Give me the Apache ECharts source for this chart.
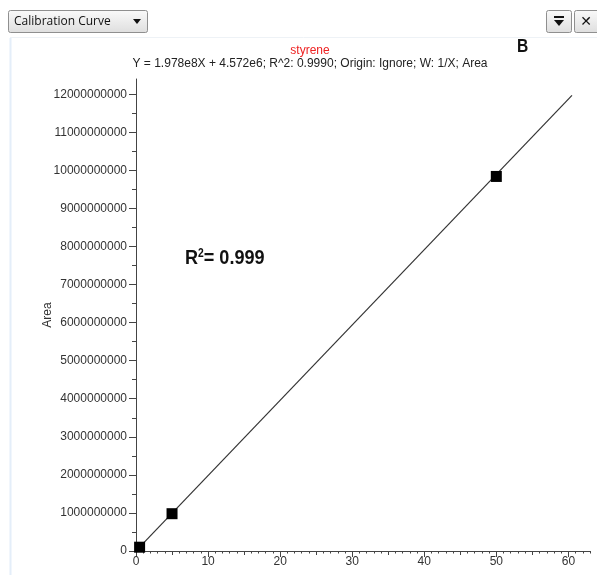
<!DOCTYPE html>
<html><head><meta charset="utf-8">
<script src="https://cdn.jsdelivr.net/npm/echarts@6/dist/echarts.min.js"></script>
<style>html,body{margin:0;padding:0;background:#fff}#c{width:597px;height:575px}</style>
</head><body><div id="c"></div>
<script>
// ---- data ----
const compoundName = 'styrene';
const equationText = 'Y = 1.978e8X + 4.572e6; R^2: 0.9990; Origin: Ignore; W: 1/X; Area';
const calX = [0.5, 5, 50];
const calY = [1.0e8, 0.98e9, 9.84e9];
const fitX = [0.5, 60.5];
const fitY = [1.03e8, 1.197e10];
const xTickLabels = [0, 10, 20, 30, 40, 50, 60];
const xMidTicks = [0, 5, 10, 15, 20, 25, 30, 35, 40, 45, 50, 55, 60];
const xMinorTicks = [];
for (let i = 0; i <= 63; i++) xMinorTicks.push(i);
const yTickLabels = [0, 1e9, 2e9, 3e9, 4e9, 5e9, 6e9, 7e9, 8e9, 9e9, 1e10, 1.1e10, 1.2e10];
const yMinorTicks = [];
for (let i = 0; i <= 24; i++) yMinorTicks.push(i * 5e8);
const yName = 'Area';
const r2Text = '0.999';

const chart = echarts.init(document.getElementById('c'));
const FONT = '"Liberation Sans", Arial, sans-serif';
const X_MAX = 63, Y_MAX = 1.24e10;
const axisCol = '#444';

const xBase = {type: 'value', min: 0, max: X_MAX, gridIndex: 0, position: 'bottom',
  splitLine: {show: false}, axisLine: {show: false}, axisLabel: {show: false}};
const yBase = {type: 'value', min: 0, max: Y_MAX, gridIndex: 0, position: 'left',
  splitLine: {show: false}, axisLine: {show: false}, axisLabel: {show: false}};

chart.setOption({
  animation: false,
  backgroundColor: '#fff',
  title: {
    text: compoundName,
    subtext: equationText,
    left: 305, textAlign: 'center', top: 40,
    itemGap: 1,
    textStyle: {color: '#ee2222', fontSize: 12, fontWeight: 'normal', fontFamily: FONT},
    subtextStyle: {color: '#222', fontSize: 12, fontFamily: FONT}
  },
  grid: {left: 136, right: 7, top: 79, bottom: 24},
  xAxis: [
    Object.assign({}, xBase, {
      axisLine: {show: true, lineStyle: {color: axisCol, width: 1}},
      axisTick: {show: true, length: 6, customValues: xTickLabels, lineStyle: {color: axisCol}},
      axisLabel: {show: true, customValues: xTickLabels, color: '#333', fontSize: 12, fontFamily: FONT, margin: 5}
    }),
    Object.assign({}, xBase, {axisTick: {show: true, length: 4, customValues: xMidTicks, lineStyle: {color: axisCol}}}),
    Object.assign({}, xBase, {axisTick: {show: true, length: 2.5, customValues: xMinorTicks, lineStyle: {color: axisCol}}})
  ],
  yAxis: [
    Object.assign({}, yBase, {
      name: yName, nameLocation: 'middle', nameGap: 82, nameRotate: 90, nameMoveOverlap: false,
      nameTextStyle: {color: '#333', fontSize: 12, fontFamily: FONT},
      axisLine: {show: true, lineStyle: {color: axisCol, width: 1}},
      axisTick: {show: true, length: 7, customValues: yTickLabels, lineStyle: {color: axisCol}},
      axisLabel: {show: true, customValues: yTickLabels, color: '#333', fontSize: 12, fontFamily: FONT, margin: 9,
        formatter: v => Math.round(v).toString()}
    }),
    Object.assign({}, yBase, {axisTick: {show: true, length: 4, customValues: yMinorTicks, lineStyle: {color: axisCol}}})
  ],
  series: [
    {type: 'line', xAxisIndex: 0, yAxisIndex: 0, data: fitX.map((x, i) => [x, fitY[i]]),
      symbol: 'none', lineStyle: {color: '#333', width: 1.2}, z: 2},
    {type: 'scatter', xAxisIndex: 0, yAxisIndex: 0, data: calX.map((x, i) => [x, calY[i]]),
      symbol: 'rect', symbolSize: 11, itemStyle: {color: '#000', opacity: 1}, z: 3}
  ],
  graphic: [
    // panel border
    {type: 'line', shape: {x1: 10.5, y1: 38, x2: 10.5, y2: 575}, style: {stroke: '#e4eef9', lineWidth: 2}},
    {type: 'line', shape: {x1: 10, y1: 37.5, x2: 597, y2: 37.5}, style: {stroke: '#eef2f6', lineWidth: 1}},
    // dropdown
    {type: 'rect', shape: {x: 8.5, y: 10.5, width: 139, height: 22, r: 2},
      style: {fill: new echarts.graphic.LinearGradient(0, 0, 0, 1, [{offset: 0, color: '#fafafa'}, {offset: 1, color: '#dedede'}]), stroke: '#8f8f8f', lineWidth: 1}},
    {type: 'text', x: 14, y: 21.5, style: {text: 'Calibration Curve', fill: '#111', font: '12px "Open Sans", "DejaVu Sans", sans-serif', verticalAlign: 'middle'}},
    {type: 'polygon', shape: {points: [[133, 19], [141, 19], [137, 24]]}, style: {fill: '#111'}},
    // buttons
    {type: 'rect', shape: {x: 546.5, y: 10.5, width: 25, height: 22, r: 2},
      style: {fill: new echarts.graphic.LinearGradient(0, 0, 0, 1, [{offset: 0, color: '#fafafa'}, {offset: 1, color: '#dedede'}]), stroke: '#8f8f8f', lineWidth: 1}},
    {type: 'rect', shape: {x: 554, y: 16, width: 10, height: 2}, style: {fill: '#111'}},
    {type: 'polygon', shape: {points: [[554, 20], [564, 20], [559, 26]]}, style: {fill: '#111'}},
    {type: 'rect', shape: {x: 574.5, y: 10.5, width: 25, height: 22, r: 2},
      style: {fill: new echarts.graphic.LinearGradient(0, 0, 0, 1, [{offset: 0, color: '#fafafa'}, {offset: 1, color: '#dedede'}]), stroke: '#8f8f8f', lineWidth: 1}},
    {type: 'text', x: 586, y: 22, style: {text: '✕', fill: '#111', font: 'bold 14px "DejaVu Sans", sans-serif', align: 'center', verticalAlign: 'middle'}},
    // panel label
    {type: 'text', x: 517, y: 46.5, scaleX: 0.82, style: {text: 'B', fill: '#111', font: 'bold 19px "Liberation Sans", Arial, sans-serif', verticalAlign: 'middle'}},
    // R^2 annotation
    {type: 'text', x: 185, y: 258, scaleX: 0.86, style: {
      text: '{r|R}{s|2}{r|= ' + r2Text + '}', verticalAlign: 'middle',
      rich: {
        r: {font: 'bold 21px "Liberation Sans", Arial, sans-serif', fill: '#111'},
        s: {font: 'bold 12px "Liberation Sans", Arial, sans-serif', fill: '#111', verticalAlign: 'top', padding: [0, 0, 9, 0]}
      }}}
  ]
});
</script></body></html>
